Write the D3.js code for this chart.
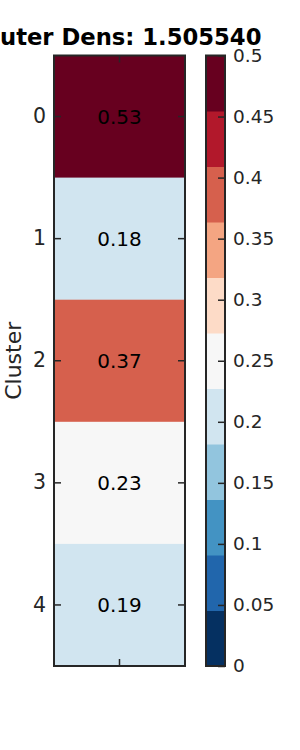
<!DOCTYPE html>
<html>
<head>
<meta charset="utf-8">
<script src="https://cdn.jsdelivr.net/npm/d3@7"></script>
<style>
  html, body { margin: 0; padding: 0; background: #fff; }
  svg { display: block; font-family: "DejaVu Sans", sans-serif; }
</style>
</head>
<body>
<svg id="chart" width="300" height="750"></svg>
<script>
// ---- data ----
const clusters = ["0", "1", "2", "3", "4"];
const densities = [0.53, 0.183, 0.37, 0.23, 0.19];
const colorbarTicks = [0, 0.05, 0.1, 0.15, 0.2, 0.25, 0.3, 0.35, 0.4, 0.45, 0.5];
const paletteColors = ["#053061", "#2166ac", "#4393c3", "#92c5de", "#d1e5f0", "#f7f7f7",
                       "#fddbc7", "#f4a582", "#d6604d", "#b2182b", "#67001f"];
const titleText = "Outer Dens: 1.505540";
const yLabel = "Cluster";

// ---- layout ----
const svg = d3.select("#chart");
const ax = { left: 54, right: 185, top: 55.5, bottom: 666 };
const cb = { left: 206, right: 225 };
const lineColor = "#262626";

const y = d3.scaleBand().domain(clusters).range([ax.top, ax.bottom]);
const color = d3.scaleQuantize().domain([0, 0.5]).range(paletteColors);
const cbScale = d3.scaleLinear().domain([0, 0.5]).range([ax.bottom, ax.top]);

// cells
svg.append("g").selectAll("rect").data(clusters).join("rect")
  .attr("x", ax.left).attr("width", ax.right - ax.left)
  .attr("y", d => y(d)).attr("height", y.bandwidth() + 0.5)
  .attr("fill", (d, i) => color(Math.min(densities[i], 0.4999)));

// cell labels
svg.append("g").selectAll("text").data(clusters).join("text")
  .attr("x", (ax.left + ax.right) / 2)
  .attr("y", d => y(d) + y.bandwidth() / 2)
  .attr("dy", "0.35em")
  .attr("text-anchor", "middle")
  .attr("font-size", 20)
  .attr("fill", "#000")
  .text((d, i) => densities[i].toFixed(2));

// left axis (ticks inward)
const leftAxis = svg.append("g").attr("transform", `translate(${ax.left},0)`)
  .call(d3.axisLeft(y).tickSize(-7).tickPadding(8));
leftAxis.attr("font-family", null).attr("font-size", null);
leftAxis.select(".domain").remove();
leftAxis.selectAll("line").attr("stroke", lineColor).attr("stroke-width", 1.5);
leftAxis.selectAll("text").attr("font-size", 20.5).attr("fill", lineColor);

// right ticks
const rightAxis = svg.append("g").attr("transform", `translate(${ax.right},0)`)
  .call(d3.axisRight(y).tickSize(-7).tickFormat(""));
rightAxis.select(".domain").remove();
rightAxis.selectAll("line").attr("stroke", lineColor).attr("stroke-width", 1.5);

// top & bottom center ticks
const xs = d3.scaleBand().domain(["c"]).range([ax.left, ax.right]);
const bAxis = svg.append("g").attr("transform", `translate(0,${ax.bottom})`)
  .call(d3.axisBottom(xs).tickSize(-7).tickFormat(""));
bAxis.select(".domain").remove();
bAxis.selectAll("line").attr("stroke", lineColor).attr("stroke-width", 1.5);
const tAxis = svg.append("g").attr("transform", `translate(0,${ax.top})`)
  .call(d3.axisTop(xs).tickSize(-7).tickFormat(""));
tAxis.select(".domain").remove();
tAxis.selectAll("line").attr("stroke", lineColor).attr("stroke-width", 1.5);

// axes box
svg.append("rect")
  .attr("x", ax.left).attr("y", ax.top)
  .attr("width", ax.right - ax.left).attr("height", ax.bottom - ax.top)
  .attr("fill", "none").attr("stroke", lineColor).attr("stroke-width", 2);

// y label
svg.append("text")
  .attr("transform", `translate(21,${(ax.top + ax.bottom) / 2}) rotate(-90)`)
  .attr("text-anchor", "middle")
  .attr("font-size", 22)
  .attr("fill", lineColor)
  .text(yLabel);

// colorbar
const nBins = paletteColors.length;
const binEdges = d3.range(nBins + 1).map(i => 0.5 * i / nBins);
svg.append("g").selectAll("rect").data(paletteColors).join("rect")
  .attr("x", cb.left).attr("width", cb.right - cb.left)
  .attr("y", (d, i) => cbScale(binEdges[i + 1]))
  .attr("height", (d, i) => cbScale(binEdges[i]) - cbScale(binEdges[i + 1]) + 0.5)
  .attr("fill", d => d);

const cbAxis = svg.append("g").attr("transform", `translate(${cb.right},0)`)
  .call(d3.axisRight(cbScale).tickValues(colorbarTicks).tickSize(-7).tickPadding(8)
    .tickFormat(d => d3.format("")(+d.toFixed(2))));
cbAxis.attr("font-family", null).attr("font-size", null);
cbAxis.select(".domain").remove();
cbAxis.selectAll("line").attr("stroke", lineColor).attr("stroke-width", 1.5);
cbAxis.selectAll("text").attr("font-size", 18.5).attr("fill", lineColor);

svg.append("rect")
  .attr("x", cb.left).attr("y", ax.top)
  .attr("width", cb.right - cb.left).attr("height", ax.bottom - ax.top)
  .attr("fill", "none").attr("stroke", lineColor).attr("stroke-width", 2);

// title
const title = svg.append("text")
  .attr("y", 45)
  .attr("font-size", 22.7)
  .attr("font-weight", "bold")
  .attr("fill", "#000")
  .text(titleText);
const firstW = title.node().getSubStringLength(0, 1);
title.attr("x", -firstW);
</script>
</body>
</html>
